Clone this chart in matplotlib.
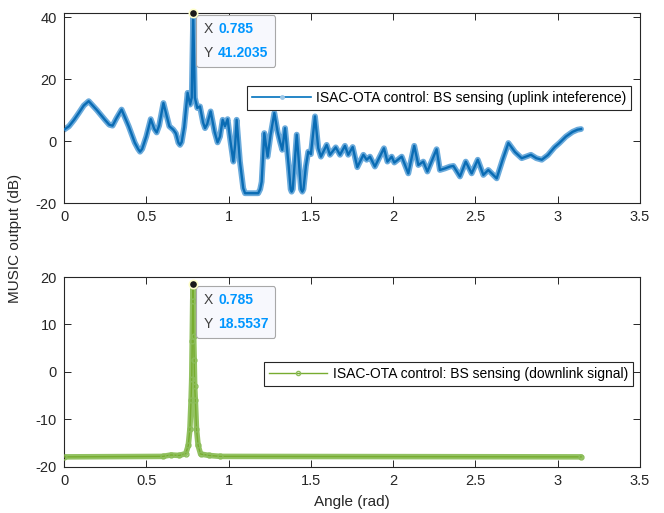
import numpy as np
import matplotlib
matplotlib.use("Agg")
import matplotlib.pyplot as plt
from matplotlib.lines import Line2D
from matplotlib.offsetbox import TextArea, HPacker, VPacker, AnnotationBbox

plt.rcParams['font.family'] = ['Liberation Sans', 'DejaVu Sans']
plt.rcParams['axes.unicode_minus'] = False

# uplink interference spectrum
up_x = [0.0, 0.03, 0.06, 0.09, 0.12, 0.15, 0.20, 0.25, 0.275, 0.295, 0.32, 0.350, 0.393, 0.43,
        0.450, 0.462, 0.475, 0.50, 0.527, 0.548, 0.563, 0.578, 0.604, 0.640, 0.664, 0.68,
        0.695, 0.705, 0.715, 0.730, 0.751, 0.766, 0.776, 0.785, 0.795, 0.810, 0.826, 0.845,
        0.857, 0.870, 0.891, 0.915, 0.933, 0.948, 0.964, 0.978, 0.994, 1.010, 1.029, 1.040,
        1.049, 1.069, 1.089, 1.100, 1.180, 1.192, 1.201, 1.217, 1.237, 1.255, 1.278, 1.298,
        1.312, 1.326, 1.343, 1.365, 1.377, 1.383, 1.390, 1.414, 1.440, 1.448, 1.455, 1.470,
        1.484, 1.50, 1.525, 1.545, 1.561, 1.596, 1.616, 1.651, 1.677, 1.707, 1.727, 1.754,
        1.782, 1.819, 1.839, 1.859, 1.889, 1.944, 1.965, 1.991, 2.007, 2.052, 2.092, 2.128,
        2.153, 2.183, 2.208, 2.264, 2.284, 2.315, 2.345, 2.366, 2.406, 2.441, 2.477, 2.514,
        2.548, 2.578, 2.629, 2.665, 2.700, 2.74, 2.781, 2.837, 2.87, 2.903, 2.94, 2.98,
        3.01, 3.05, 3.09, 3.12, 3.1416]
up_y = [3.7, 4.8, 6.8, 9.1, 11.5, 12.9, 10.0, 6.8, 5.3, 5.0, 7.5, 10.2, 4.8, -0.5,
        -2.5, -3.4, -2.5, 1.5, 7.1, 4.0, 2.8, 5.0, 12.3, 4.8, 3.7, 2.5,
        -0.5, -1.2, -0.3, 4.5, 15.6, 11.8, 14.0, 41.2035, 14.0, 10.7, 11.2, 6.0,
        4.2, 5.5, 9.6, 3.0, -0.4, 1.5, 6.9, 4.8, 7.1, 0.5, -6.6, -1.0,
        6.9, -6.6, -15.2, -16.8, -16.8, -15.5, -13.1, 2.6, -5.0, 2.0, 9.1, 3.0,
        -0.1, -2.8, 4.2, -8.0, -15.5, -16.3, -15.5, 2.1, -15.5, -16.3, -15.5, -8.0,
        -3.4, -4.2, 8.0, -2.3, -5.0, -1.2, -4.4, -2.0, -4.4, -1.5, -4.4, -1.9,
        -8.4, -4.4, -6.0, -5.0, -8.2, -2.3, -6.6, -5.0, -6.9, -5.0, -10.4, -1.5,
        -7.7, -6.6, -9.8, -2.6, -9.3, -8.8, -8.2, -8.0, -11.4, -6.6, -10.4, -6.0,
        -10.9, -9.3, -12.0, -6.0, -0.6, -3.5, -5.5, -4.4, -5.5, -6.0, -4.5, -2.0,
        -0.6, 1.5, 3.0, 3.7, 3.9]

# downlink signal spectrum
dn_x = [0.0, 0.60, 0.65, 0.70, 0.74, 0.755, 0.765, 0.772, 0.776, 0.779, 0.782, 0.785,
        0.788, 0.791, 0.794, 0.798, 0.805, 0.815, 0.83, 0.88, 0.95, 3.1416]
dn_y = [-17.9, -17.8, -17.5, -17.6, -17.2, -15.5, -12.0, -6.0, -1.5, 6.5, 15.0, 18.5537,
        7.5, 2.5, -3.0, -6.0, -12.0, -15.5, -17.3, -17.6, -17.8, -17.9]

peak_x = 0.785
up_peak = 41.2035
dn_peak = 18.5537

blue = '#0072BD'
green = '#77AC30'
axcol = '#262626'

fig = plt.figure(figsize=(6.64, 5.13), dpi=100)
ax1 = fig.add_axes([0.0964, 0.604, 0.8675, 0.371])
ax2 = fig.add_axes([0.0964, 0.090, 0.8675, 0.370])

# top
ax1.plot(up_x, up_y, color='#6aaadb', lw=4.2, solid_joinstyle='round',
         solid_capstyle='round', zorder=2)
ax1.plot(up_x, up_y, color='#0a6cb4', lw=1.7, solid_joinstyle='round', zorder=3)
ax1.set_ylim(-20, 41.4)
ax1.set_yticks([-20, 0, 20, 40])

# bottom
ax2.plot(dn_x, dn_y, color='#93c262', lw=4, solid_capstyle='round', zorder=2)
ax2.plot(dn_x, dn_y, color=green, lw=1, marker='o', ms=3.5, mfc='none',
         mec='#8cbd5a', mew=1, zorder=3)
ax2.set_ylim(-20, 20)
ax2.set_yticks([-20, -10, 0, 10, 20])

for ax in (ax1, ax2):
    ax.set_xlim(0, 3.5)
    ax.set_xticks(np.arange(0, 3.51, 0.5))
    ax.set_xticklabels(['0', '0.5', '1', '1.5', '2', '2.5', '3', '3.5'])
    ax.tick_params(direction='in', top=True, right=True, length=5, width=0.7,
                   colors=axcol, labelsize=10.5, pad=5)
    for s in ax.spines.values():
        s.set_color(axcol)
        s.set_linewidth(0.8)

# legends
h1 = Line2D([], [], color=blue, lw=1.2, marker='o', ms=2.5, mfc='#9cc7e8', mec='#9cc7e8')
leg1 = ax1.legend([h1], ['ISAC-OTA control: BS sensing (uplink inteference)'],
                  loc='upper right', bbox_to_anchor=(0.997, 0.65), fontsize=10,
                  fancybox=False, edgecolor=axcol, framealpha=1, handlelength=4.2,
                  borderpad=0.35, handletextpad=0.4)
leg1.get_frame().set_linewidth(0.8)
h2 = Line2D([], [], color=green, lw=1, marker='o', ms=3, mfc='none', mec='#8cbd5a')
leg2 = ax2.legend([h2], ['ISAC-OTA control: BS sensing (downlink signal)'],
                  loc='upper right', bbox_to_anchor=(1.0, 0.59), fontsize=10,
                  fancybox=False, edgecolor=axcol, framealpha=1, handlelength=4.2,
                  borderpad=0.35, handletextpad=0.4)
leg2.get_frame().set_linewidth(0.8)

# data tips
def datatip(ax, x, y, ytxt):
    ax.plot([x], [y], 'o', color='#1a1a1a', mec='#ffffcc', mew=1.2, ms=6,
            clip_on=False, zorder=8)
    lab = dict(color='#404040', fontsize=10)
    val = dict(color='#0096ff', fontsize=10, fontweight='bold')
    r1 = HPacker(children=[TextArea('X', textprops=lab), TextArea('0.785', textprops=val)],
                 pad=0, sep=4)
    r2 = HPacker(children=[TextArea('Y', textprops=lab), TextArea(ytxt, textprops=val)],
                 pad=0, sep=4)
    box = VPacker(children=[r1, r2], pad=0, sep=7)
    ab = AnnotationBbox(box, (x, y), xybox=(10, -9), xycoords='data',
                        boxcoords='offset pixels', box_alignment=(0, 1),
                        frameon=True, annotation_clip=False,
                        bboxprops=dict(boxstyle='round,pad=0.5,rounding_size=0.2',
                                       fc='#f7f8fd', ec='#a8a8a8', lw=0.8))
    ab.set_zorder(7)
    ax.add_artist(ab)

datatip(ax1, peak_x, up_peak, '41.2035')
datatip(ax2, peak_x, dn_peak, '18.5537')

fig.text(0.022, 0.535, 'MUSIC output (dB)', rotation=90, ha='center', va='center',
         fontsize=11, color=axcol)
ax2.set_xlabel('Angle (rad)', fontsize=11, color=axcol, labelpad=5)

fig.savefig('out.png', dpi=100)
